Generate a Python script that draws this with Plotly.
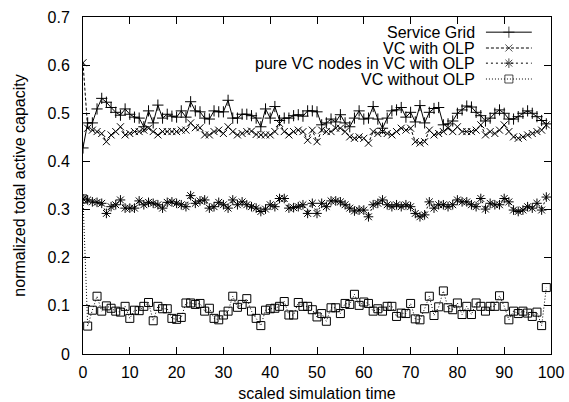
import plotly.graph_objects as go

time = list(range(100))

service_grid = [
    .428, .480, .480, .509, .531, .523, .512, .502, .496, .509,
    .498, .492, .490, .472, .505, .480, .517, .490, .498, .494,
    .492, .505, .492, .524, .505, .503, .490, .488, .505, .503,
    .503, .527, .490, .490, .498, .498, .495, .490, .472, .509,
    .490, .514, .485, .490, .490, .495, .497, .494, .505, .505,
    .503, .476, .480, .488, .482, .497, .480, .472, .490, .505,
    .488, .490, .514, .488, .469, .490, .505, .507, .512, .492,
    .502, .482, .516, .480, .502, .510, .512, .476, .478, .484,
    .500, .507, .515, .513, .502, .495, .484, .490, .500, .507,
    .500, .488, .488, .493, .500, .505, .500, .493, .485, .478,
]

vc_with_olp = [
    .605, .469, .465, .462, .458, .441, .455, .462, .472, .455,
    .458, .462, .462, .465, .469, .462, .455, .462, .462, .462,
    .462, .465, .465, .480, .470, .470, .455, .455, .462, .465,
    .458, .472, .462, .455, .458, .462, .463, .456, .455, .455,
    .455, .462, .479, .462, .455, .462, .465, .462, .444, .465,
    .441, .465, .462, .462, .469, .469, .462, .451, .448, .451,
    .448, .438, .462, .458, .462, .458, .455, .462, .469, .465,
    .469, .441, .438, .441, .465, .455, .458, .462, .469, .462,
    .472, .462, .462, .462, .465, .476, .455, .462, .458, .465,
    .476, .462, .451, .448, .451, .455, .458, .462, .465, .476,
]

pure_vc_nodes = [
    .322, .320, .316, .315, .313, .292, .306, .310, .320, .303,
    .303, .303, .318, .310, .315, .313, .310, .303, .315, .316,
    .313, .310, .306, .329, .313, .318, .320, .303, .306, .315,
    .310, .303, .320, .310, .316, .310, .306, .303, .296, .301,
    .310, .306, .323, .323, .303, .304, .306, .310, .292, .313,
    .292, .313, .306, .318, .318, .316, .310, .303, .297, .299,
    .299, .285, .310, .313, .320, .310, .306, .310, .306, .310,
    .306, .292, .285, .289, .316, .303, .310, .310, .306, .310,
    .320, .316, .316, .310, .306, .323, .301, .313, .310, .310,
    .323, .316, .299, .296, .299, .306, .303, .313, .299, .326,
]

vc_without_olp = [
    .322, .058, .091, .120, .089, .100, .095, .089, .087, .099,
    .074, .091, .090, .099, .107, .069, .099, .094, .094, .074,
    .072, .076, .106, .106, .103, .105, .089, .095, .074, .071,
    .081, .089, .120, .097, .103, .115, .089, .074, .059, .091,
    .094, .095, .099, .109, .081, .081, .107, .099, .099, .092,
    .077, .084, .068, .096, .096, .084, .105, .103, .124, .101,
    .108, .105, .089, .094, .089, .099, .099, .078, .085, .084,
    .105, .073, .071, .094, .120, .080, .098, .131, .096, .092,
    .106, .082, .099, .082, .106, .099, .089, .099, .099, .121,
    .099, .071, .089, .084, .089, .085, .078, .087, .059, .138,
]

series_names = ["Service Grid", "VC with OLP", "pure VC nodes in VC with OLP", "VC without OLP"]
series_values = [service_grid, vc_with_olp, pure_vc_nodes, vc_without_olp]
x_ticks = [0, 10, 20, 30, 40, 50, 60, 70, 80, 90, 100]
y_ticks = [0, 0.1, 0.2, 0.3, 0.4, 0.5, 0.6, 0.7]
y_tick_labels = ["0", "0.1", "0.2", "0.3", "0.4", "0.5", "0.6", "0.7"]

styles = [
    dict(dash="solid", symbol="cross-thin", size=8),
    dict(dash="3px,2px", symbol="x-thin", size=7),
    dict(dash="2px,3px", symbol="asterisk", size=8),
    dict(dash="1px,2px", symbol="square-open", size=8),
]

FONT = "Liberation Sans, Arial, Helvetica, sans-serif"
fig = go.Figure()

for name, vals, st in zip(series_names, series_values, styles):
    fig.add_trace(go.Scatter(
        x=time, y=vals, mode="lines+markers", name=name, showlegend=False,
        line=dict(color="black", width=1, dash=st["dash"]),
        marker=dict(symbol=st["symbol"], size=st["size"], color="black",
                    line=dict(color="black", width=1)),
    ))

# gnuplot-style key: text right-aligned, sample to its right (on overlay axes 0..1)
row_y = [0.955, 0.908, 0.863, 0.816]
for name, st, ry in zip(series_names, styles, row_y):
    fig.add_annotation(x=0.842, y=ry, xref="paper", yref="paper", text=name,
                       showarrow=False, xanchor="right", yanchor="middle",
                       font=dict(family=FONT, size=16, color="black"))
    fig.add_trace(go.Scatter(
        x=[0.861, 0.910, 0.959], y=[ry, ry, ry], xaxis="x2", yaxis="y2",
        mode="lines+markers", showlegend=False, hoverinfo="skip",
        line=dict(color="black", width=1, dash=st["dash"]),
        marker=dict(symbol=st["symbol"], size=[0, st["size"], 0], color="black",
                    line=dict(color="black", width=1)),
    ))

axis_common = dict(showgrid=False, zeroline=False, showline=True, linecolor="black",
                   linewidth=1, mirror="ticks", ticks="inside", ticklen=7,
                   tickcolor="black", tickwidth=1, automargin=False,
                   tickfont=dict(family=FONT, size=16, color="black"))

fig.update_layout(
    width=569, height=402,
    margin=dict(l=83, r=18, t=17, b=48, autoexpand=False),
    paper_bgcolor="white", plot_bgcolor="white",
    xaxis=dict(range=[0, 100], tickvals=x_ticks, ticklabelstandoff=4,
               title=dict(text="scaled simulation time", standoff=7,
                          font=dict(family=FONT, size=16, color="black")),
               **axis_common),
    yaxis=dict(range=[0, 0.7], tickvals=y_ticks, ticktext=y_tick_labels, ticklabelstandoff=9,
               title=dict(text="normalized total active capacity", standoff=17,
                          font=dict(family=FONT, size=16, color="black")),
               **axis_common),
    xaxis2=dict(range=[0, 1], overlaying="x", visible=False, fixedrange=True),
    yaxis2=dict(range=[0, 1], overlaying="y", visible=False, fixedrange=True),
)

fig.write_html("out.html", config={"displayModeBar": False},
               post_script="document.body.style.margin='0';")
